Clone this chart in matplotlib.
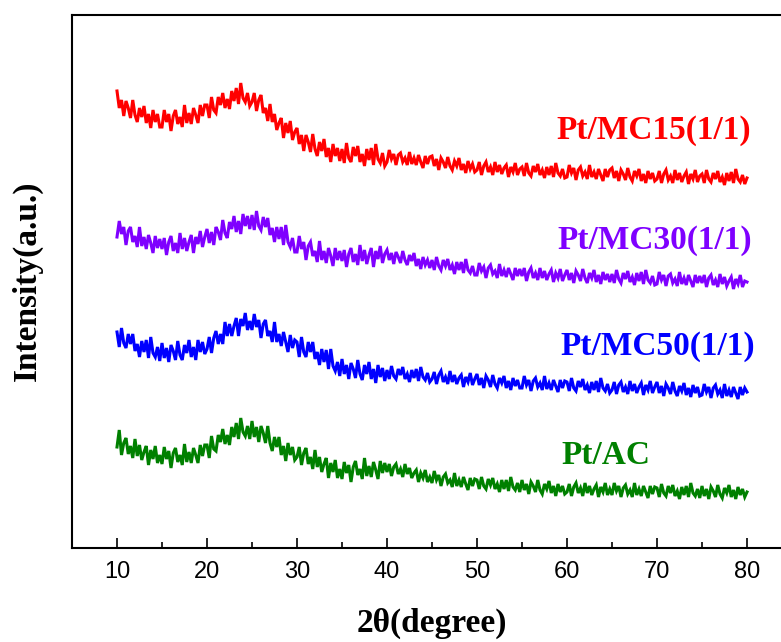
import numpy as np
import matplotlib
matplotlib.use("Agg")
import matplotlib.pyplot as plt
from matplotlib.ticker import MultipleLocator

# 2theta grid of the scans (0.25 degree step, 10 -> 80)
two_theta = np.linspace(10, 80, 281)

# intensities (arbitrary units, curves already stacked)
pt_mc15 = [
    457, 440, 448, 432, 447, 440, 430, 448, 433, 426, 440, 431, 442, 425, 434, 420, 438, 426, 434, 421,
    421, 438, 426, 434, 417, 432, 438, 424, 431, 421, 443, 425, 435, 424, 440, 433, 425, 443, 432, 443,
    443, 430, 451, 438, 435, 451, 443, 455, 440, 449, 439, 457, 447, 460, 444, 465, 450, 446, 455, 442,
    446, 455, 437, 448, 453, 435, 440, 427, 444, 426, 434, 418, 425, 430, 410, 425, 415, 427, 408, 416,
    420, 404, 413, 397, 413, 406, 396, 414, 399, 392, 406, 397, 409, 391, 400, 386, 404, 392, 400, 387,
    399, 385, 405, 390, 386, 401, 392, 402, 386, 394, 382, 399, 388, 400, 383, 404, 389, 385, 395, 382,
    386, 398, 389, 394, 383, 393, 395, 386, 390, 383, 396, 384, 390, 383, 393, 386, 380, 392, 384, 391,
    392, 382, 389, 378, 390, 386, 380, 391, 382, 378, 387, 382, 390, 378, 384, 375, 387, 379, 384, 376,
    378, 386, 373, 382, 386, 376, 381, 373, 386, 376, 383, 374, 380, 383, 371, 381, 376, 385, 373, 379,
    381, 372, 385, 375, 372, 382, 376, 384, 373, 378, 370, 381, 373, 382, 371, 385, 375, 372, 379, 370,
    371, 383, 375, 380, 368, 378, 381, 372, 376, 369, 383, 371, 376, 369, 379, 373, 367, 379, 371, 378,
    380, 370, 377, 367, 378, 374, 368, 380, 371, 367, 377, 372, 379, 367, 374, 365, 377, 369, 375, 367,
    369, 377, 365, 374, 378, 368, 372, 365, 378, 368, 375, 366, 372, 376, 364, 374, 369, 378, 366, 372,
    374, 365, 378, 369, 366, 375, 369, 377, 366, 371, 363, 375, 367, 376, 365, 379, 369, 366, 373, 364,
    370]

pt_mc30 = [
    311, 327, 314, 321, 303, 317, 321, 306, 312, 301, 321, 302, 311, 299, 313, 305, 295, 312, 300, 309,
    299, 310, 293, 306, 312, 297, 305, 295, 315, 299, 310, 297, 306, 313, 295, 311, 304, 317, 301, 311,
    319, 305, 316, 303, 321, 316, 308, 328, 315, 310, 326, 319, 332, 316, 327, 314, 334, 322, 332, 319,
    333, 318, 337, 322, 318, 331, 321, 330, 313, 320, 306, 321, 309, 321, 303, 323, 306, 301, 310, 296,
    296, 312, 299, 306, 288, 302, 306, 292, 297, 286, 307, 288, 297, 285, 300, 292, 282, 300, 288, 297,
    287, 298, 281, 294, 300, 286, 294, 283, 303, 287, 298, 284, 293, 300, 281, 297, 289, 302, 285, 294,
    298, 288, 295, 284, 296, 291, 285, 297, 288, 283, 293, 287, 295, 282, 289, 279, 291, 283, 288, 280,
    288, 278, 291, 282, 278, 288, 282, 289, 278, 283, 274, 286, 278, 286, 275, 289, 278, 275, 282, 273,
    273, 285, 277, 281, 270, 280, 283, 274, 277, 270, 284, 272, 278, 271, 280, 274, 268, 280, 272, 279,
    272, 280, 267, 276, 280, 270, 275, 268, 280, 270, 277, 268, 274, 278, 266, 275, 270, 279, 267, 273,
    278, 268, 275, 265, 277, 273, 267, 279, 270, 265, 275, 270, 278, 266, 273, 264, 276, 268, 274, 266,
    274, 265, 278, 269, 265, 275, 269, 277, 266, 271, 263, 275, 267, 276, 264, 278, 268, 265, 272, 263,
    264, 276, 268, 273, 262, 272, 274, 265, 269, 262, 276, 264, 270, 263, 273, 267, 261, 273, 265, 272,
    265, 273, 261, 270, 273, 263, 268, 261, 274, 264, 271, 262, 267, 271, 259, 269, 264, 273, 261, 267,
    266]

pt_mc50 = [
    216, 201, 220, 205, 200, 214, 204, 214, 197, 204, 191, 207, 196, 208, 190, 211, 195, 191, 201, 187,
    205, 190, 200, 186, 203, 197, 188, 207, 193, 188, 203, 195, 208, 191, 201, 188, 208, 196, 206, 194,
    199, 211, 195, 210, 217, 204, 214, 204, 226, 212, 224, 212, 222, 230, 212, 229, 222, 235, 218, 227,
    218, 234, 221, 228, 210, 224, 228, 212, 217, 206, 226, 206, 214, 202, 216, 206, 196, 213, 200, 208,
    206, 191, 211, 196, 191, 206, 196, 206, 189, 196, 183, 199, 186, 198, 179, 199, 182, 177, 186, 172,
    189, 174, 183, 169, 185, 179, 170, 188, 174, 168, 183, 174, 186, 169, 179, 165, 183, 171, 180, 167,
    178, 169, 182, 172, 169, 179, 173, 181, 169, 174, 166, 178, 170, 179, 167, 181, 171, 168, 175, 166,
    169, 176, 164, 173, 177, 166, 171, 164, 177, 166, 173, 164, 170, 173, 161, 171, 166, 175, 163, 169,
    174, 163, 170, 160, 172, 168, 161, 173, 164, 160, 170, 165, 172, 160, 167, 158, 170, 162, 168, 160,
    160, 172, 163, 168, 157, 167, 170, 161, 165, 158, 172, 159, 165, 158, 168, 162, 156, 168, 160, 167,
    166, 157, 170, 160, 157, 167, 161, 169, 158, 163, 155, 166, 158, 167, 156, 170, 160, 157, 164, 155,
    158, 166, 154, 163, 166, 156, 161, 154, 167, 157, 164, 155, 161, 165, 153, 163, 158, 167, 155, 161,
    166, 155, 162, 152, 164, 160, 154, 166, 157, 152, 162, 157, 165, 153, 160, 151, 163, 155, 161, 152,
    153, 164, 156, 161, 150, 160, 163, 154, 158, 150, 164, 152, 158, 151, 161, 155, 149, 161, 153, 160,
    156]

pt_ac = [
    101, 118, 93, 105, 110, 94, 102, 90, 109, 92, 103, 88, 96, 102, 83, 98, 89, 102, 85, 93,
    84, 101, 89, 97, 80, 95, 100, 86, 93, 83, 104, 86, 96, 85, 100, 93, 85, 103, 92, 103,
    103, 90, 112, 99, 97, 113, 106, 119, 104, 113, 103, 121, 111, 125, 109, 130, 116, 112, 122, 109,
    127, 111, 121, 106, 122, 115, 105, 122, 105, 97, 111, 101, 111, 93, 102, 87, 105, 93, 101, 88,
    91, 101, 83, 95, 100, 84, 91, 79, 98, 81, 91, 76, 84, 90, 70, 85, 76, 88, 70, 79,
    69, 86, 75, 83, 66, 81, 87, 73, 79, 69, 90, 72, 82, 71, 86, 78, 69, 87, 75, 85,
    76, 84, 72, 81, 84, 74, 79, 71, 84, 74, 80, 70, 75, 78, 66, 75, 70, 78, 66, 71,
    65, 77, 68, 73, 62, 71, 74, 65, 68, 61, 75, 62, 68, 61, 71, 64, 58, 70, 62, 69,
    68, 59, 71, 62, 59, 69, 63, 70, 59, 64, 56, 68, 59, 68, 57, 71, 61, 58, 65, 56,
    68, 58, 64, 54, 66, 62, 56, 68, 58, 54, 64, 59, 67, 55, 62, 52, 64, 56, 62, 54,
    56, 64, 52, 61, 65, 55, 60, 52, 65, 55, 62, 53, 59, 63, 51, 61, 56, 65, 53, 59,
    53, 65, 57, 62, 51, 60, 63, 54, 58, 51, 65, 53, 59, 52, 62, 56, 50, 62, 54, 61,
    60, 51, 64, 55, 52, 62, 55, 63, 52, 57, 49, 61, 53, 62, 51, 65, 55, 52, 59, 50,
    62, 52, 59, 49, 61, 57, 51, 63, 54, 50, 60, 55, 63, 51, 58, 49, 61, 53, 59, 51,
    56]

names = ["Pt/MC15(1/1)", "Pt/MC30(1/1)", "Pt/MC50(1/1)", "Pt/AC"]
colors = ["#FF0000", "#7F00FF", "#0000FF", "#008000"]
series = [pt_mc15, pt_mc30, pt_mc50, pt_ac]

fig = plt.figure(figsize=(7.81, 6.42), dpi=100)
# axes run past the right edge of the picture, like the original crop
ax = fig.add_axes([72 / 781, 94 / 642, 720 / 781, 533 / 642])

for vals, c in zip(series, colors):
    ax.plot(two_theta, vals, color=c, lw=2.2, solid_joinstyle="miter")

ax.set_xlim(5, 85)
ax.set_ylim(0, 533)
ax.xaxis.set_major_locator(MultipleLocator(10))
ax.xaxis.set_minor_locator(MultipleLocator(5))
ax.set_xticks([10, 20, 30, 40, 50, 60, 70, 80])
ax.set_yticks([])
ax.tick_params(axis="x", which="major", direction="in", length=7, width=1.2, pad=9)
ax.tick_params(axis="x", which="minor", direction="in", length=4, width=1.2)
for lab in ax.get_xticklabels():
    lab.set_fontfamily("Liberation Sans")
    lab.set_fontsize(17)
for s in ax.spines.values():
    s.set_linewidth(1.5)

# sample names
lbl_font = dict(family="Liberation Serif", fontweight="bold", fontsize=24)
ax.text(80.4, 417, names[0], color=colors[0], ha="right", va="center", **lbl_font)
ax.text(80.6, 308, names[1], color=colors[1], ha="right", va="center", **lbl_font)
ax.text(80.9, 201, names[2], color=colors[2], ha="right", va="center", **lbl_font)
ax.text(64.3, 93, names[3], color=colors[3], ha="center", va="center", **lbl_font)

fig.text(432 / 781, 1 - 623 / 642, "2θ(degree)", ha="center", va="center", **lbl_font)
fig.text(27 / 781, 1 - 281 / 642, "Intensity(a.u.)", rotation=90, ha="center", va="center", **lbl_font)

fig.savefig("out.png", dpi=100)
